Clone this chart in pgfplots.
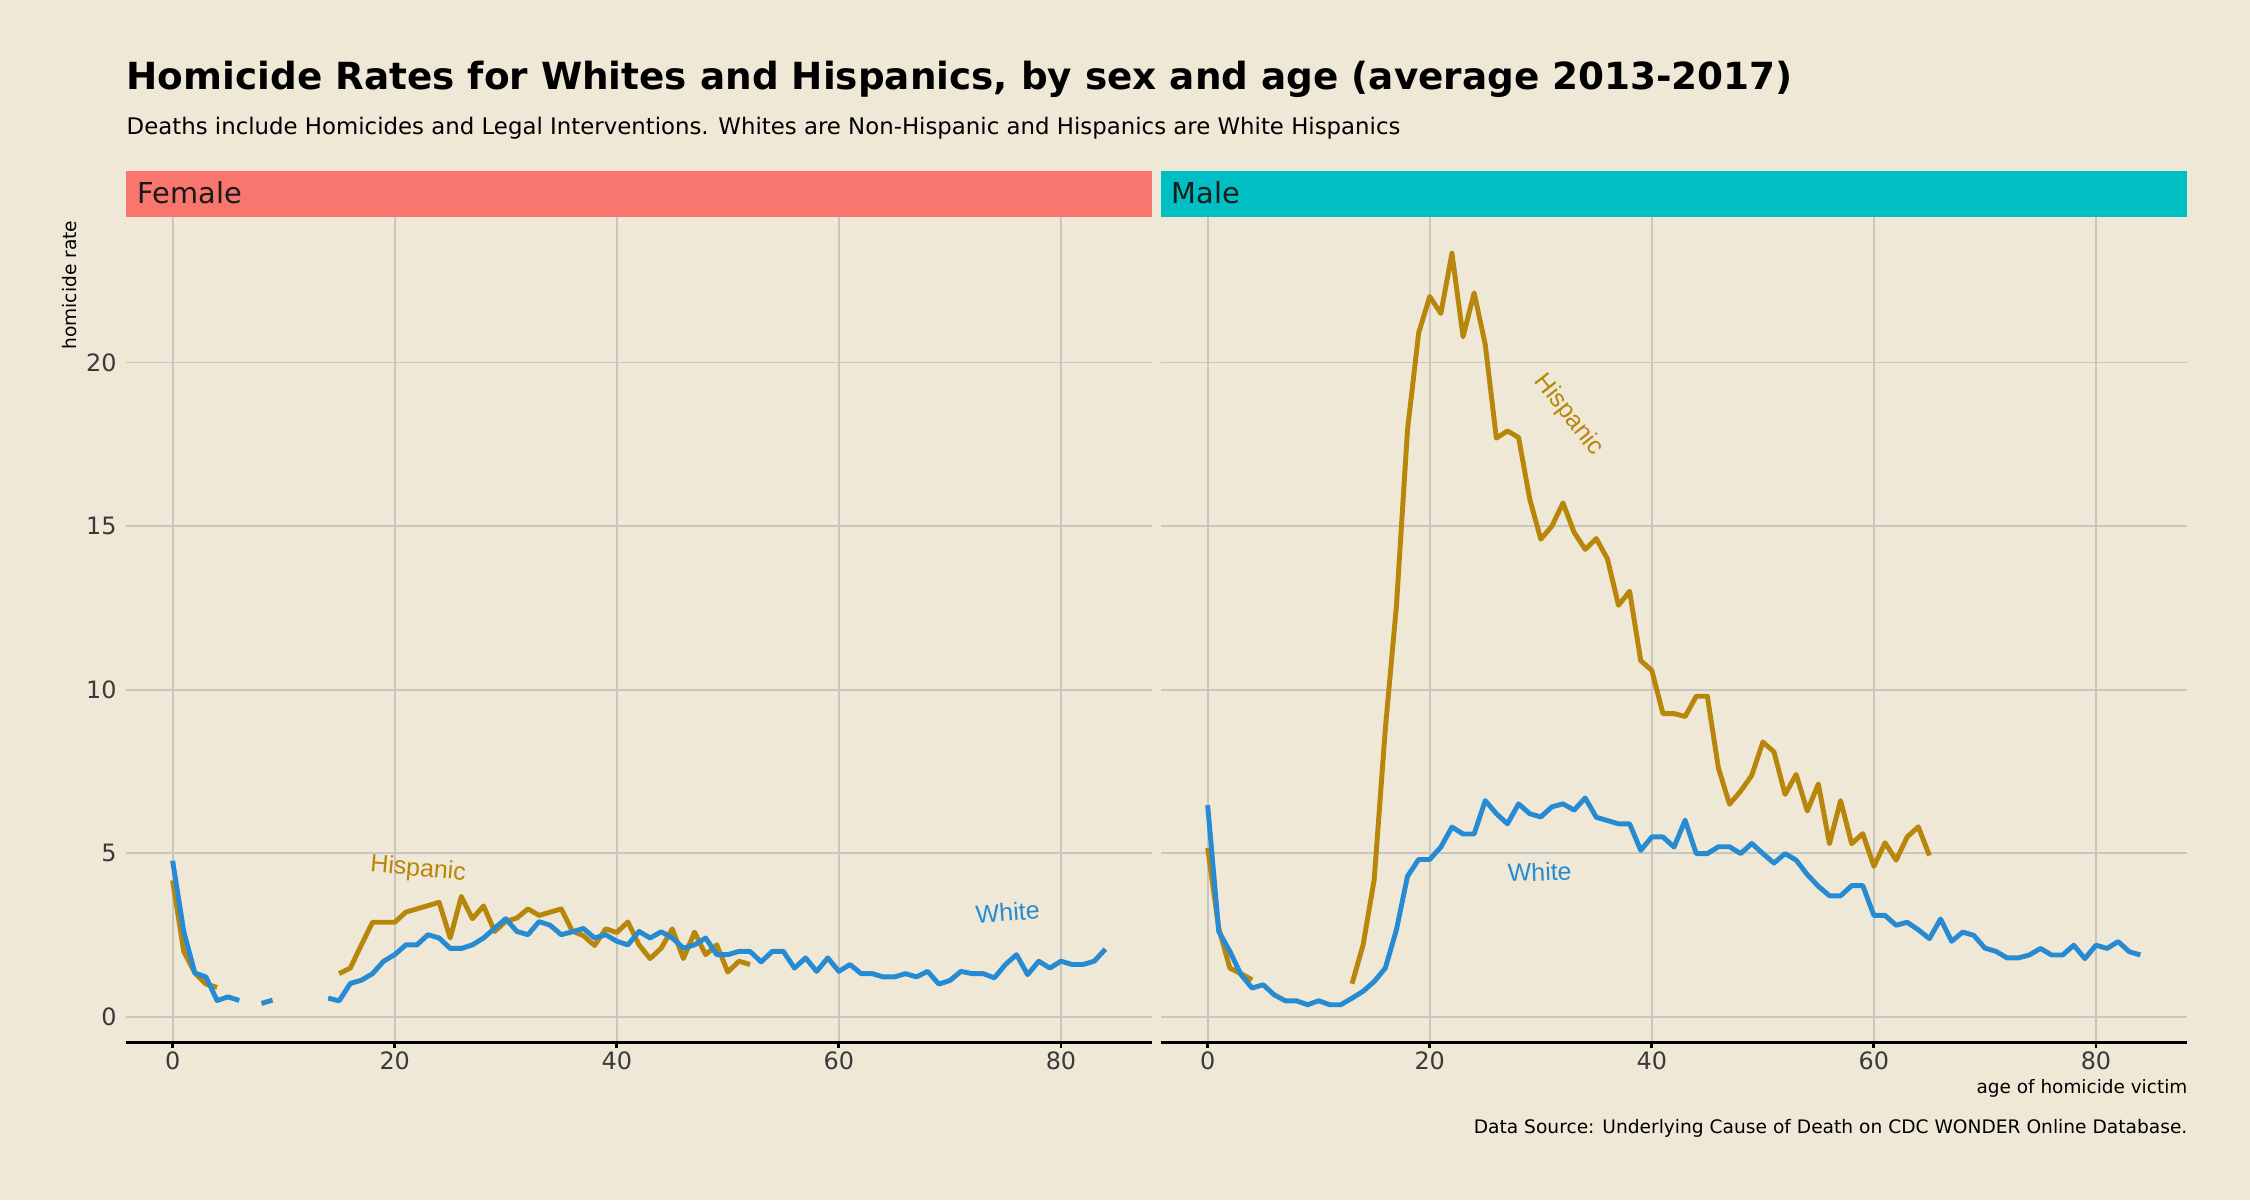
\documentclass[border=0pt]{standalone}
\usepackage{fontspec}
\setmainfont{DejaVu Sans}
\newfontfamily\arialf{Liberation Sans}
\usepackage{pgfplots}
\pgfplotsset{compat=1.18}
\definecolor{bg}{HTML}{EFE8D6}
\definecolor{stripF}{HTML}{F8766D}
\definecolor{stripM}{HTML}{00BFC4}
\definecolor{hisp}{HTML}{B8860B}
\definecolor{whit}{HTML}{268BD2}
\definecolor{gridc}{RGB}{200,198,192}
\definecolor{tickc}{HTML}{3A3A3A}
\begin{document}
\begin{tikzpicture}
\fill[bg] (0,0) rectangle (22.5,12);
\pgfplotsset{panel/.style={
  anchor=south west, scale only axis, width=10.26cm, height=8.25cm,
  xmin=-4.2, xmax=88.2, ymin=-0.77, ymax=24.45,
  xtick={0,20,40,60,80}, ytick={0,5,10,15,20},
  grid=major, grid style={gridc, line width=0.5pt},
  axis line style={draw=none},
  tick pos=left, tick align=outside, major tick length=0.06cm,
  ytick style={draw=none}, xtick style={black, line width=0.8pt},
  tick label style={font=\fontsize{6.8}{8}\selectfont, text=tickc},
  xticklabel style={yshift=0.09cm},
  yticklabel style={xshift=0.09cm},
  /pgf/number format/assume math mode=true,
  unbounded coords=jump,
  every axis plot/.append style={line width=1.4pt, line join=round, no markers},
}}
% Female panel
\begin{axis}[panel, name=fax, at={(1.26cm,1.58cm)}]
\addplot[hisp] coordinates {
(0,4.17)(1,2.0)(2,1.34)(3,1.0)(4,0.9)(5,nan)
(15,1.32)(16,1.49)(17,2.2)(18,2.89)(19,2.89)(20,2.89)(21,3.2)(22,3.3)(23,3.4)(24,3.5)
(25,2.41)(26,3.68)(27,3.0)(28,3.39)(29,2.61)(30,2.92)(31,3.02)(32,3.3)(33,3.1)(34,3.2)
(35,3.3)(36,2.62)(37,2.48)(38,2.18)(39,2.69)(40,2.58)(41,2.9)(42,2.2)(43,1.78)(44,2.1)
(45,2.69)(46,1.78)(47,2.59)(48,1.9)(49,2.2)(50,1.37)(51,1.7)(52,1.6)};
\addplot[whit] coordinates {
(0,4.77)(1,2.61)(2,1.34)(3,1.22)(4,0.5)(5,0.61)(6,0.5)(7,nan)(8,0.41)(9,0.51)(10,nan)
(14,0.57)(15,0.49)(16,1.02)(17,1.12)(18,1.32)(19,1.7)(20,1.9)(21,2.2)(22,2.2)(23,2.51)
(24,2.41)(25,2.09)(26,2.09)(27,2.2)(28,2.41)(29,2.71)(30,3.0)(31,2.61)(32,2.51)(33,2.91)
(34,2.8)(35,2.51)(36,2.6)(37,2.7)(38,2.41)(39,2.51)(40,2.31)(41,2.2)(42,2.61)(43,2.41)
(44,2.6)(45,2.41)(46,2.1)(47,2.2)(48,2.41)(49,1.9)(50,1.9)(51,2.0)(52,2.0)(53,1.68)
(54,2.0)(55,2.0)(56,1.49)(57,1.8)(58,1.39)(59,1.8)(60,1.39)(61,1.6)(62,1.32)(63,1.32)
(64,1.22)(65,1.22)(66,1.32)(67,1.22)(68,1.39)(69,1.0)(70,1.11)(71,1.39)(72,1.32)(73,1.32)
(74,1.19)(75,1.6)(76,1.9)(77,1.29)(78,1.7)(79,1.49)(80,1.7)(81,1.6)(82,1.6)(83,1.7)(84,2.07)};
\node[hisp, font=\arialf\fontsize{7.1}{8}\selectfont, rotate=-5] at (axis cs:22.1,4.5) {Hispanic};
\node[whit, font=\arialf\fontsize{7.1}{8}\selectfont, rotate=4] at (axis cs:75.2,3.2) {White};
\end{axis}
% Male panel
\begin{axis}[panel, name=max, at={(11.61cm,1.58cm)}, yticklabels={}]
\addplot[hisp] coordinates {
(0,5.16)(1,2.7)(2,1.49)(3,1.32)(4,1.13)(5,nan)
(13,1.01)(14,2.2)(15,4.2)(16,8.8)(17,12.56)(18,17.95)(19,20.9)(20,22.02)(21,21.5)(22,23.34)
(23,20.79)(24,22.13)(25,20.55)(26,17.69)(27,17.91)(28,17.71)(29,15.84)(30,14.6)(31,15.0)
(32,15.71)(33,14.81)(34,14.29)(35,14.62)(36,14.0)(37,12.58)(38,13.01)(39,10.89)(40,10.59)
(41,9.27)(42,9.27)(43,9.18)(44,9.8)(45,9.8)(46,7.6)(47,6.5)(48,6.9)(49,7.38)(50,8.4)
(51,8.1)(52,6.8)(53,7.41)(54,6.29)(55,7.12)(56,5.29)(57,6.61)(58,5.29)(59,5.6)(60,4.6)
(61,5.32)(62,4.79)(63,5.5)(64,5.81)(65,4.93)};
\addplot[whit] coordinates {
(0,6.47)(1,2.61)(2,2.0)(3,1.29)(4,0.88)(5,0.98)(6,0.67)(7,0.49)(8,0.49)(9,0.37)(10,0.49)
(11,0.37)(12,0.37)(13,0.57)(14,0.78)(15,1.08)(16,1.49)(17,2.66)(18,4.3)(19,4.81)(20,4.81)
(21,5.19)(22,5.8)(23,5.59)(24,5.59)(25,6.61)(26,6.21)(27,5.9)(28,6.51)(29,6.21)(30,6.11)
(31,6.42)(32,6.51)(33,6.32)(34,6.69)(35,6.1)(36,6.0)(37,5.9)(38,5.9)(39,5.09)(40,5.5)
(41,5.5)(42,5.19)(43,6.01)(44,4.99)(45,4.99)(46,5.2)(47,5.2)(48,4.99)(49,5.3)(50,4.99)
(51,4.7)(52,4.99)(53,4.79)(54,4.35)(55,3.99)(56,3.7)(57,3.7)(58,4.01)(59,4.01)(60,3.1)
(61,3.1)(62,2.8)(63,2.89)(64,2.66)(65,2.39)(66,2.99)(67,2.31)(68,2.59)(69,2.49)(70,2.1)
(71,2.0)(72,1.8)(73,1.8)(74,1.89)(75,2.09)(76,1.89)(77,1.89)(78,2.19)(79,1.78)(80,2.19)
(81,2.09)(82,2.3)(83,1.99)(84,1.89)};
\node[hisp, font=\arialf\fontsize{7.1}{8}\selectfont, rotate=-52] at (axis cs:32.5,18.4) {Hispanic};
\node[whit, font=\arialf\fontsize{7.1}{8}\selectfont, rotate=2] at (axis cs:29.9,4.43) {White};
\end{axis}
% bottom axis lines
\draw[black, line width=0.85pt] (fax.south west) -- (fax.south east);
\draw[black, line width=0.85pt] (max.south west) -- (max.south east);
% strips
\fill[stripF] (1.26,9.83) rectangle (11.52,10.29);
\fill[stripM] (11.61,9.83) rectangle (21.87,10.29);
\node[anchor=base west, inner sep=0, text={rgb,255:red,26;green,26;blue,26}, font=\fontsize{8.2}{10}\selectfont] at (1.37,9.96) {Female};
\node[anchor=base west, inner sep=0, text={rgb,255:red,26;green,26;blue,26}, font=\fontsize{8.2}{10}\selectfont] at (11.71,9.96) {Male};
% titles
\node[anchor=base west, inner sep=0, font=\fontsize{10.63}{12}\selectfont\bfseries] at (1.26,11.10) {Homicide Rates for Whites and Hispanics, by sex and age (average 2013-2017)};
\node[anchor=base west, inner sep=0, font=\fontsize{6.5}{8}\selectfont] at (1.26,10.65) {Deaths include Homicides and Legal Interventions. Whites are Non-Hispanic and Hispanics are White Hispanics};
% axis labels
\node[rotate=90, anchor=east, inner sep=0, font=\fontsize{5.3}{6}\selectfont] at (0.70,9.80) {homicide rate};
\node[anchor=base east, inner sep=0, font=\fontsize{5.25}{6}\selectfont] at (21.88,1.07) {age of homicide victim};
\node[anchor=base east, inner sep=0, font=\fontsize{5.3}{7}\selectfont] at (21.88,0.67) {Data Source: Underlying Cause of Death on CDC WONDER Online Database.};
\end{tikzpicture}
\end{document}
